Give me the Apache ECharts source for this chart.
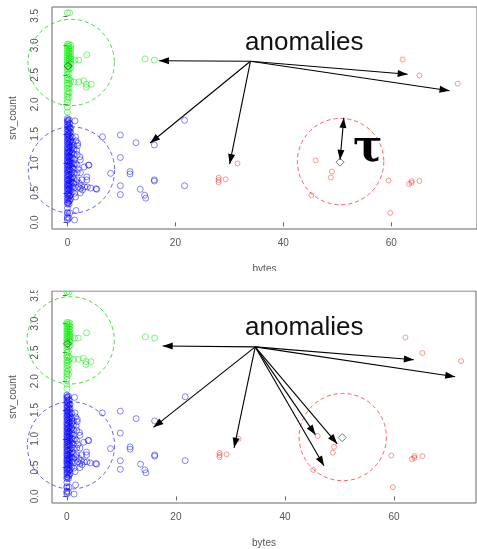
<!DOCTYPE html>
<html><head><meta charset="utf-8">
<script src="https://cdn.jsdelivr.net/npm/echarts@6/dist/echarts.min.js"></script>
<style>html,body{margin:0;padding:0;background:#fff}#c{width:477px;height:549px}</style>
</head><body><div id="c"></div>
<script>
// ---------- data ----------
const xTicks = [0, 20, 40, 60];
const yTicks = [0, 0.5, 1, 1.5, 2, 2.5, 3, 3.5];
const xTitle = 'bytes';
const yTitle = 'srv_count';

const bluePoints = [
  // dense column near 0
  [0,0.04],[0,0.07],[0,0.09],[0,0.15],[0,0.17],[0,0.24],[0,0.31],[0,0.34],[0,0.38],[0,0.42],[0,0.46],[0,0.49],
  [0,0.53],[0,0.57],[0,0.6],[0,0.63],[0,0.66],[0,0.7],[0,0.73],[0,0.76],[0,0.79],[0,0.83],[0,0.86],[0,0.9],
  [0,0.93],[0,0.97],[0,1.0],[0,1.04],[0,1.07],[0,1.11],[0,1.14],[0,1.18],[0,1.21],[0,1.25],[0,1.28],[0,1.32],
  [0,1.36],[0,1.39],[0,1.43],[0,1.47],[0,1.5],[0,1.54],[0,1.58],[0,1.62],[0,1.66],[0,1.7],[0,1.73],[0,1.76],
  [0.15,0.33],[0.15,0.41],[0.15,0.48],[0.15,0.56],[0.15,0.64],[0.15,0.71],[0.15,0.8],[0.15,0.88],[0.15,0.95],
  [0.15,1.03],[0.15,1.1],[0.15,1.17],[0.15,1.24],[0.15,1.33],[0.15,1.41],[0.15,1.48],[0.15,1.56],[0.15,1.64],[0.15,1.72],
  [0.3,0.31],[0.3,0.36],[0.3,0.44],[0.3,0.5],[0.3,0.55],[0.3,0.61],[0.3,0.67],[0.3,0.72],[0.3,0.78],[0.3,0.85],
  [0.3,0.91],[0.3,0.96],[0.3,1.02],[0.3,1.08],[0.3,1.13],[0.3,1.19],[0.3,1.26],[0.3,1.31],[0.3,1.37],[0.3,1.44],
  [0.3,1.49],[0.3,1.55],[0.3,1.61],[0.3,1.68],[0.3,1.74],[0.4,0.16],[0.3,0.07],
  [0.45,0.37],[0.45,0.45],[0.45,0.58],[0.45,0.65],[0.45,0.74],[0.45,0.81],[0.45,0.89],[0.45,0.98],[0.45,1.05],
  [0.45,1.12],[0.45,1.2],[0.45,1.28],[0.45,1.35],[0.45,1.42],[0.45,1.52],[0.45,1.59],[0.45,1.67],
  [0.6,0.4],[0.6,0.47],[0.6,0.54],[0.6,0.62],[0.6,0.69],[0.6,0.75],[0.6,0.82],[0.6,0.88],[0.6,0.95],[0.6,1.01],
  [0.6,1.09],[0.6,1.15],[0.6,1.22],[0.6,1.3],[0.6,1.38],[0.6,1.46],[0.6,1.53],[0.6,1.6],
  [0.9,0.52],[0.9,0.6],[0.9,0.68],[0.9,0.77],[0.9,0.85],[0.9,0.93],[0.9,1.0],[0.9,1.1],[0.9,1.18],[0.9,1.27],
  [0.9,1.35],[0.9,1.44],
  [1.2,0.58],[1.2,0.66],[1.2,0.74],[1.2,0.83],[1.2,0.9],[1.2,0.99],[1.2,1.06],[1.2,1.16],[1.2,1.24],[1.2,1.31],
  // spread next to the column
  [1.4,1.72],[1.5,1.45],[1.9,1.34],[1.9,1.3],[1.7,1.22],[1.8,1.15],[2.3,1.11],[2.4,1.06],[1.8,0.97],[3.1,0.94],
  [3.9,0.97],[1.8,0.84],[2.4,0.84],[2.0,0.9],[3.6,0.77],[3.6,0.72],[2.7,0.72],[1.8,0.72],[1.6,0.69],[2.0,0.6],
  [2.4,0.57],[2.8,0.55],[3.2,0.6],[3.7,0.6],[4.3,0.58],[5.45,0.56],[2.4,0.5],[1.3,0.49],[1.33,0.04],[1.6,0.2],
  [1.5,0.43],[2.6,0.62],[2.2,0.66],[1.5,1.0],[1.6,1.38],
  // outliers
  [21.7,1.73],[9.8,1.48],[6.5,1.45],[12.7,1.35],[16.1,1.31],[9.8,1.1],[8.0,0.83],[11.6,0.86],[11.6,0.82],
  [16.1,0.72],[16.1,0.70],[9.8,0.62],[13.5,0.56],[21.7,0.62],[9.8,0.47],[14.3,0.46],[14.5,0.41],[5.3,0.57],[4.0,0.97]
];

const greenPoints = [
  [0,1.87],[0,1.95],[0,2.03],[0,2.08],[0,2.13],[0,2.17],[0,2.22],[0,2.27],[0,2.32],[0,2.36],[0,2.41],[0,2.45],
  [0,2.5],[0,2.55],[0,2.6],[0,2.64],[0,2.68],[0,2.72],[0,2.75],[0,2.79],[0,2.83],[0,2.87],[0,2.91],[0,2.95],
  [0,2.99],[0,3.02],
  [0.3,2.12],[0.3,2.2],[0.3,2.28],[0.3,2.35],[0.3,2.43],[0.3,2.52],[0.3,2.6],[0.3,2.65],[0.3,2.7],[0.3,2.74],
  [0.3,2.78],[0.3,2.82],[0.3,2.86],[0.3,2.9],[0.3,2.94],[0.3,2.98],[0.3,3.02],
  [0.6,2.4],[0.6,2.62],[0.6,2.68],[0.6,2.72],[0.6,2.77],[0.6,2.8],[0.6,2.85],[0.6,2.9],[0.6,2.95],[0.6,3.0],
  [0,3.55],[0.4,3.55],
  [1.4,2.75],[2.1,2.75],[3.6,2.84],[1.2,2.38],[2.1,2.38],[3.0,2.4],[3.5,2.34],[4.4,2.34],[3.5,2.29],
  [14.4,2.77],[16.1,2.75]
];

const redPoints = [
  [62.1,2.76],[65.2,2.49],[72.3,2.35],[31.5,1.0],[46.0,1.05],[49.0,0.86],[48.8,0.76],[45.2,0.46],
  [59.5,0.71],[63.3,0.65],[63.75,0.7],[63.75,0.67],[65.2,0.70],[59.8,0.16],
  [28.0,0.756],[28.0,0.717],[28.0,0.68],[29.3,0.73]
];

const centers = [[0.1,2.65],[0.2,0.86],[50.5,1.02]];
// clusters: [cx, cy, radius (x units), colour index]
const clusterCircles = [[0.7,2.71,8,0],[0.75,0.886,8,1],[50.6,1.03,8,2]];

// arrows: [x0,y0,x1,y1,doubleHead]
const arrowsTop = [
  [33.9,2.73,16.96,2.74,0],[33.9,2.73,15.33,1.344,0],[33.9,2.73,30.05,0.988,0],
  [33.9,2.73,63.02,2.51,0],[33.9,2.73,70.78,2.23,0],
  [50.5,1.06,51.2,1.77,1]
];
const arrowsBottom = [
  [34.55,2.596,17.58,2.613,0],[34.55,2.596,15.89,1.199,0],[34.55,2.596,30.67,0.844,0],
  [34.55,2.596,63.64,2.373,0],[34.55,2.596,71.22,2.077,0],
  [34.55,2.596,45.58,1.072,0],[34.55,2.596,47.16,0.531,0],[34.55,2.596,49.58,0.913,0]
];

// ---------- styles ----------
const circleColors = ['rgba(0,210,0,0.75)','rgba(40,40,255,0.75)','rgba(255,40,40,0.75)'];
const axisGray = '#666';
const labelGray = '#555';
const font = 'Liberation Sans, Arial, sans-serif';

function makeX(idx, min, max) {
  return {
    type:'value', gridIndex: idx, min, max,
    axisLine:{show:false}, splitLine:{show:false},
    axisTick:{show:true, length:4, lineStyle:{color:axisGray}, customValues:xTicks},
    axisLabel:{customValues:xTicks, fontSize:10, color:labelGray, margin:9, fontFamily:font},
    name:xTitle, nameLocation:'middle', nameGap:35,
    nameTextStyle:{fontSize:10, color:labelGray, fontFamily:font}
  };
}
function makeY(idx, min, max) {
  return {
    type:'value', gridIndex: idx, min, max,
    axisLine:{show:false}, splitLine:{show:false},
    axisTick:{show:true, length:4, lineStyle:{color:axisGray}, customValues:yTicks},
    axisLabel:{customValues:yTicks, fontSize:10, color:labelGray, margin:12, rotate:90,
      fontFamily:font, formatter:v=>Number(v).toFixed(1)},
    name:yTitle, nameLocation:'middle', nameGap:34, nameRotate:90,
    nameTextStyle:{fontSize:10, color:labelGray, fontFamily:font}
  };
}

function renderCircle(params, api) {
  const c = api.coord([api.value(0), api.value(1)]);
  const r = api.size([api.value(2), 0])[0];
  return {type:'circle', shape:{cx:c[0], cy:c[1], r:r},
    style:{fill:'none', stroke:circleColors[api.value(3)], lineWidth:1, lineDash:[4,3]}};
}
function head(p, q, L, W) {
  const dx = p[0]-q[0], dy = p[1]-q[1];
  const len = Math.sqrt(dx*dx+dy*dy) || 1;
  const ux = dx/len, uy = dy/len, nx = -uy, ny = ux;
  return {type:'polygon', shape:{points:[[p[0],p[1]],
    [p[0]-L*ux+W*nx, p[1]-L*uy+W*ny],[p[0]-L*ux-W*nx, p[1]-L*uy-W*ny]]},
    style:{fill:'#000'}};
}
function renderArrow(params, api) {
  const a = api.coord([api.value(0), api.value(1)]);
  const b = api.coord([api.value(2), api.value(3)]);
  const dbl = api.value(4);
  const children = [{type:'line', shape:{x1:a[0], y1:a[1], x2:b[0], y2:b[1]},
    style:{stroke:'#000', lineWidth:1.1}}];
  children.push(head(b, a, 10, 3.5));
  if (dbl) children.push(head(a, b, 10, 3.5));
  return {type:'group', children};
}

function panelSeries(i, arrows) {
  const base = {xAxisIndex:i, yAxisIndex:i};
  return [
    Object.assign({type:'custom', renderItem:renderCircle, data:clusterCircles, silent:true, clip:false, z:1}, base),
    Object.assign({type:'scatter', data:bluePoints, symbol:'circle', symbolSize:6,
      itemStyle:{color:'transparent', borderColor:'rgba(0,0,255,0.6)', borderWidth:1}, z:2}, base),
    Object.assign({type:'scatter', data:greenPoints, symbol:'circle', symbolSize:6,
      itemStyle:{color:'transparent', borderColor:'rgba(0,235,0,0.65)', borderWidth:1}, z:2}, base),
    Object.assign({type:'scatter', data:redPoints, symbol:'circle', symbolSize:5,
      itemStyle:{color:'transparent', borderColor:'rgba(255,0,0,0.5)', borderWidth:1}, z:2}, base),
    Object.assign({type:'scatter', data:centers, symbol:'diamond', symbolSize:8,
      itemStyle:{color:'transparent', borderColor:'#555', borderWidth:1}, z:3}, base),
    Object.assign({type:'custom', renderItem:renderArrow, data:arrows, silent:true, clip:false, z:4}, base)
  ];
}

const chart = echarts.init(document.getElementById('c'), null, {renderer:'canvas'});
chart.setOption({
  animation:false,
  backgroundColor:'#fff',
  grid:[
    {left:51, top:7, width:433, height:222, show:true, borderColor:axisGray, borderWidth:1, backgroundColor:'transparent'},
    {left:48.3, top:291, width:427.7, height:215, show:true, borderColor:axisGray, borderWidth:1, backgroundColor:'transparent'}
  ],
  xAxis:[makeX(0,-2.855,75.87), makeX(1,-2.727,75.04)],
  yAxis:[makeY(0,-0.113,3.65), makeY(1,-0.115,3.567)],
  series:[].concat(panelSeries(0, arrowsTop), panelSeries(1, arrowsBottom)),
  graphic:[
    {type:'rect', shape:{x:0, y:271, width:477, height:19.5}, style:{fill:'#fff'}, z:100},
    {type:'text', x:245, y:43, style:{text:'anomalies', font:'26px Liberation Sans, Arial, sans-serif', fill:'#111', verticalAlign:'middle', align:'left'}, z:101},
    {type:'text', x:245, y:328, style:{text:'anomalies', font:'26px Liberation Sans, Arial, sans-serif', fill:'#111', verticalAlign:'middle', align:'left'}, z:101},
    {type:'text', x:353, y:150, style:{text:'τ', font:'bold 44px DejaVu Serif, serif', fill:'#000', verticalAlign:'middle', align:'left'}, z:101}
  ]
});
</script></body></html>
